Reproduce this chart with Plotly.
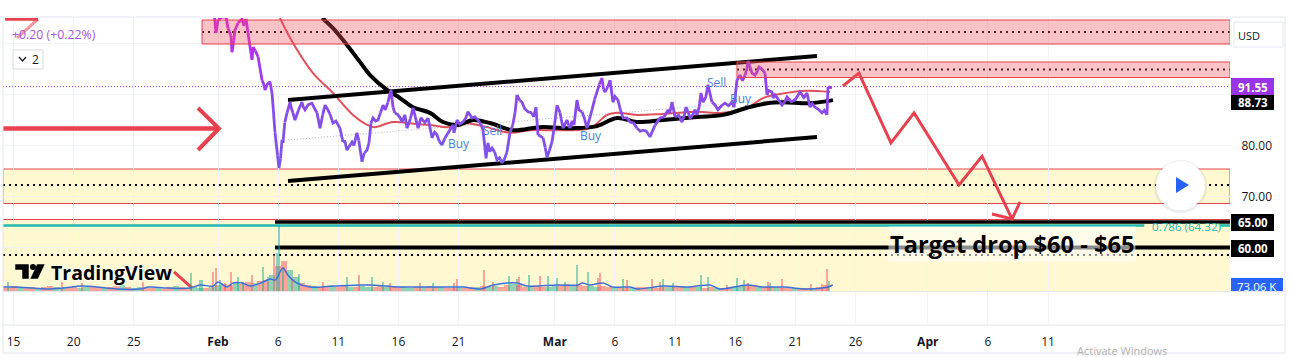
import plotly.graph_objects as go

# ---- data: x in days after 1 Feb, y in USD ----
price_days = [-0.3,-0.17,0,.33,.67,.83,1.08,1.16,1.41,1.66,2.0,2.33,2.49,2.83,2.91,3.33,3.66,3.91,4.32,4.49,4.74,5.07,5.32,5.40,5.74,5.99,6.23,6.40,6.98,7.23,7.81,8.23,8.48,8.9,9.14,9.56,10.14,10.39,10.72,11.14,11.55,11.97,12.39,12.72,12.88,13.3,13.72,14.13,14.38,14.55,14.96,15.30,15.54,15.71,16.21,16.63,16.87,17.46,17.79,18.2,18.62,19.04,19.53,19.62,19.87,20.37,20.78,21.11,21.61,22.03,22.28,22.44,22.78,23.19,23.61,24.02,24.27,24.69,24.85,25.27,25.77,26.1,26.43,26.6,27.02,27.35,27.76,28.18,28.43,28.68,29.01,29.26,29.59,29.84,30.26,30.67,31.09,31.5,31.92,32.17,32.59,32.83,33.25,33.67,34.25,34.83,35.33,35.91,36.33,36.74,37.41,37.74,37.99,38.57,38.9,39.24,39.65,39.82,40.15,40.32,40.73,41.06,41.56,42.14,42.73,42.89,43.14,43.39,43.81,44.06,44.39,44.64,44.97,45.47,45.64,46.05,46.3,46.88,47.3,47.96,48.38,48.96,49.21,49.63,50.21,50.62,50.71,51.04]
price_vals = [105.5,102.1,104.6,105.2,105.2,103,101.5,98.3,102.6,104,104.8,104.8,102.1,96.8,99.3,97.4,92.8,90.9,92.5,90.3,82.5,75.6,81.1,80.5,86.4,88.5,86.4,85,88.5,87,88.3,86.4,83.4,87.9,87,84.4,83.4,80.7,79.1,80.7,82.5,76.8,79.1,84.4,85.4,85,87.9,88.5,90.9,87.5,86,84.6,86,83.4,87.4,83.4,85.4,85.4,81.5,82.1,80.1,82.1,84,82.5,85,84.6,86.6,85.4,85,83,77.5,80.5,79.5,77.2,76.6,78.7,82.5,86.4,89.9,88.5,86.6,86.4,87.5,82.1,81.5,77.7,80.7,87.9,86.4,83.4,85,83.4,84,88.9,86.6,83.4,87,90.3,93.2,90.5,92.8,88.5,88.9,85.4,84.6,83.4,83,81.7,84,85.4,87,88.5,85.6,84.6,87.5,85.4,87,86,90.3,88.5,91.9,88.5,87,88.3,88.5,87.5,92.8,93.8,93.8,96.6,94.2,93.8,95.4,94.2,89.9,90.5,89.9,87.9,89.5,88.9,90.5,90.3,87.5,87.5,86.4,86,91.5,91.3]
detail_days = [1.3,2.15,3.1,3.5,3.8,4.1,4.6,4.95,5.2,5.55,6.1,6.7,7.1,7.5,8.0,8.7,9.3,9.8,10.25,10.55,11.3,11.7,12.15,12.55,13.1,13.5,13.9,14.7,15.15,16,16.4,17.2,18,18.4,18.85,19.25,20.1,20.6,21.35,21.85,22.6,23,23.4,23.8,24.5,25.1,25.5,26.25,27.2,27.55,27.95,28.55,29.15,29.45,30,30.45,30.85,31.3,31.7,32.05,32.4,33,33.45,34,34.55,35.1,35.6,36.1,36.55,37.1,37.55,38.3,38.75,39.05,39.45,40.0,40.55,41.3,41.85,42.45,43.6,43.95,44.25,44.8,45.25,45.75,46.15,46.6,47.1,47.65,48.2,48.7,49.4,49.9,50.4]
detail_vals = [100.5,103.5,98.6,94.8,92,92,87,78,77.5,84.5,87.3,87,87.5,88,87.4,86,86.2,84.8,82.3,80.8,80,81,78.5,80.5,84.8,86.4,87,86.4,85.4,85.3,85.6,84.5,82.6,80.8,81.4,83,84.2,85.4,85.6,84.2,78.8,78.7,77.6,77.3,84,88.8,87.2,85.6,79.6,79,83.6,85,84,84.8,87,85.4,85,89,92,91,91.5,89.6,87,85.4,84.4,82.8,82.8,82.6,84.8,85.6,86.4,85.9,85.8,86.8,85.9,87.6,89.5,88,87.8,87.8,92.7,94.8,95,94.4,94.9,90.8,89.3,89,88.5,88.6,89.8,89.4,88.2,87.1,86.9]
merged = sorted(zip(price_days+detail_days, price_vals+detail_vals))
price_days = [m[0] for m in merged]
price_vals = [m[1] for m in merged]

red_ma_days = [5.15,6.23,7.9,9.56,11.22,12.64,13.05,14.55,16.54,17.62,19.29,20.37,22.03,24.27,25.94,28.68,30.92,32.34,33.17,34.83,36.99,39.82,41.98,43.97,45.3,46.72,48.63,50.87]
red_ma_vals = [105,100.1,94.2,90.3,86,83.8,83.6,84.6,84.2,84,83.6,84.4,83.8,82.5,83,83,83.4,86,86.4,86,86.2,86.6,86.4,87.4,89.3,90.1,90.7,90.5]
black_ma_days = [8.65,9.56,10.72,11.8,12.64,14.05,15.13,16.21,17.62,18.7,19.87,21.2,22.61,24.52,26.77,29.51,31.5,33.17,34.83,36.99,39.82,41.98,43.97,45.64,46.97,49.21,51.12]
black_ma_vals = [105,103,99.7,96.4,93.8,90.9,89.3,87.5,86.4,84.6,84,85,84.4,83,83.6,83.4,83.8,85.4,84.6,85,85.6,86,87.4,88.3,88.5,88.3,88.9]

channel_days = [5.82,49.79]
channel_upper = [88.9,97.55]
channel_lower = [73.04,81.67]
trend_days = [5.82,49.46]
trend_vals = [81.08,89.51]

forecast_days = [51.95,53.28,55.94,57.86,61.6,63.51,66.0]
forecast_vals = [91.67,94.2,80.5,86.4,72.25,77.9,65.6]
forecast_head_days = [64.34,66.0,66.67]
forecast_head_vals = [66.57,65.6,68.93]
big_arrow_days = [-17.87,0.08]
big_arrow_vals = [83.33,83.33]
big_head_days = [-1.66,0.08,-1.66]
big_head_vals = [87.35,83.33,79.12]
corner_days = [-17.7,-14.96]
corner_vals = [104.8,104.8]
corner_diag_days = [-14.96,-16.7]
corner_diag_vals = [104.8,101.08]
small_arrow_days = [-3.66,-2.16]
small_arrow_vals = [55.2,52.06]

level_top = 102.25
level_mid = 94.9
level_support = 72.25
level_low = 58.53
level_65 = 65.0
level_60 = 60.0
fib_level = 64.32
last_price = 91.55

vol_base = [64,48,80,64,48,64,48,64,80,64,48,48,64,48,64,80,64,48,64,80,96,64,48,64,48,48,48,32,64,80,64,48,64,48,48,64,
            96,112,96,128,112,144,128,160,176,256,400,480,336,224,
            128,96,80,64,64,80,64,80,64,64,80,64,64,80,
            64,80,64,64,48,64,64,80,64,64,48,48,48,48,
            64,64,80,64,80,64,96,112,96,64,80,80,64,64,
            80,96,112,96,96,80,80,64,80,64,48,48,48,48,
            64,64,64,48,64,64,64,80,64,64,64,48,64,48,
            48,64,64,80,96,80,64,64,64,64,48,64,48,48,48,48,64,96]
vol_base_dir = "udduddudduudduuddudduduudduddudduuduuddudduddudduudduddudduduuddudduududduddudduduudduddudduuddudduuddudduddudduddududdudduudduddudduddudd"
spike_days = [-17.46,-12.97,-11.31,-6.23,-2.24,-1.5,-1.33,-.42,-.17,.17,.58,1.08,1.66,2.08,2.83,3.74,4.16,4.66,4.90,5.07,5.40,6.15,6.73,8.73,10.72,11.72,12.80,13.72,14.30,16.79,17.87,19.62,19.87,22.11,22.86,24.19,24.85,25.02,25.85,26.77,27.43,28.18,28.84,29.84,30.76,31.59,31.75,33.67,34.0,36.08,36.74,36.99,37.82,40.15,40.73,42.31,43.14,43.72,44.06,45.72,45.89,46.88,49.29,50.21,50.62,50.79]
spike_vals = [144,144,128,144,288,176,176,304,368,176,128,304,224,144,256,384,224,576,608,1056,384,208,272,144,224,256,224,144,128,128,128,128,192,336,144,240,192,224,256,240,240,208,144,416,304,208,288,192,176,192,144,192,128,256,224,96,208,176,128,144,128,192,112,112,352,160]
spike_dir = "uddduuuddudduuduuduuudududuuddudddduududuuuuudduddduuuuduudduddddudd"[:66]
vol_ma_days = [-17.87,-17,-15.4,-14,-12.9,-11.3,-10.1,-8.4,-6.5,-5.7,-4.2,-2.3,-1.5,-.4,0,.75,1.25,2,2.66,3.75,4.33,4.75,5.4,5.8,6.55,7.65,9.56,12.4,15.1,17.6,19.3,20.4,21.8,22.9,24.85,25.7,28.2,29.9,30.3,30.9,32,32.8,34.25,34.9,37,39.2,40.9,41.7,43.97,45.3,47,49,50.7,51.1]
vol_ma_vals = [64,64,48,32,48,80,64,32,32,64,48,48,96,80,144,64,128,128,80,144,192,176,368,256,128,64,80,96,64,64,64,64,32,96,128,80,96,96,128,96,128,64,64,32,80,64,96,32,96,64,64,32,64,96]

x_tick_days = [-17,-12,-7,0,5,10,15,20,28,33,38,43,48,53,59,64,69]
x_tick_text = ["15","20","25","<b>Feb</b>","6","11","16","21","<b>Mar</b>","6","11","16","21","26","<b>Apr</b>","6","11"]
y_tick_vals = [60,70,80,90,100]
y_tick_text = ["","70.00","80.00","",""]

# ---- colours / geometry ----
RED = "#e8404e"
YELLOW = "#fff8d0"
PINK = "rgba(247,82,95,0.35)"
GREEN_VOL = "rgba(34,171,148,0.5)"
RED_VOL = "rgba(247,82,95,0.5)"
W, H = 1290, 358
L, R, T, B = 3, 1230, 18, 325
X0, X1 = (L-218)/12.03, (R-218)/12.03
Y_BOTTOM = 80+(145.5-B)/5.1
Y_TOP = 80+(145.5-T)/5.1
PANE_BOTTOM = 80+(145.5-291.5)/5.1
DOTS = "2px,4px"

fx = lambda p: (p-L)/(R-L)
fy = lambda p: (B-p)/(B-T)

def price_colour(v):
    stops = [(76,(122,88,232)),(90,(140,72,232)),(106,(208,32,240))]
    for (a,ca),(b,cb) in zip(stops,stops[1:]):
        if v<=b:
            t=max(0,(v-a)/(b-a))
            return "rgb(%d,%d,%d)"%tuple(round(p+(q-p)*t) for p,q in zip(ca,cb))
    return "rgb(208,32,240)"

fig = go.Figure()

# volume
fig.add_trace(go.Bar(x=[-18+0.5*i for i in range(len(vol_base))], y=vol_base, width=0.5, yaxis="y2",
                     marker=dict(color=[GREEN_VOL if d=="u" else RED_VOL for d in vol_base_dir[:len(vol_base)]], line_width=0),
                     showlegend=False))
fig.add_trace(go.Bar(x=spike_days, y=spike_vals, width=0.1, yaxis="y2",
                     marker=dict(color=[GREEN_VOL if d=="u" else RED_VOL for d in spike_dir], line_width=0),
                     showlegend=False))
fig.add_trace(go.Scatter(x=vol_ma_days, y=vol_ma_vals, yaxis="y2", mode="lines", line=dict(color="#3f6fd8", width=1.5, shape="spline"), showlegend=False))

def line(x, y, color, width, dash=None, shape="linear", opacity=1):
    fig.add_trace(go.Scatter(x=x, y=y, mode="lines", opacity=opacity, showlegend=False,
                             line=dict(color=color, width=width, dash=dash, shape=shape)))

# horizontal levels
line([X0,X1],[last_price,last_price],"#9b33e6",1,"1px,2px")
line([-1.33,X1],[level_top,level_top],"#000",2,DOTS)
line([43.14,X1],[level_mid,level_mid],"#000",2,DOTS)
line([X0,X1],[level_support,level_support],"#000",2,DOTS)
line([X0,X1],[level_low,level_low],"#000",2,DOTS)
line([X0,77.0],[fib_level,fib_level],"#22b8b0",2.5)
line([83.3,X1],[fib_level,fib_level],"#22b8b0",2.5)
line(trend_days,trend_vals,"#b4b4b4",1,"1px,2px")

# moving averages
line(red_ma_days,red_ma_vals,"#e0505a",2,shape="spline")
line(black_ma_days,black_ma_vals,"#000",4,shape="spline")

# channel and levels
line(channel_days,channel_upper,"#000",4)
line(channel_days,channel_lower,"#000",4)
line([4.74,X1],[level_65,level_65],"#000",3.5)
line([4.74,X1],[level_60,level_60],"#000",4)

# price, coloured by level
seg_x,seg_y=[price_days[0]],[price_vals[0]]
cur=None
for i in range(1,len(price_days)):
    mid=round((price_vals[i]+price_vals[i-1])/2/2.5)*2.5
    c=price_colour(mid)
    if cur is None: cur=c
    if c!=cur:
        line(seg_x,seg_y,cur,2.8)
        seg_x,seg_y=[price_days[i-1]],[price_vals[i-1]]
        cur=c
    seg_x.append(price_days[i]); seg_y.append(price_vals[i])
line(seg_x,seg_y,cur,2.8)

# drawn arrows
line(forecast_days,forecast_vals,RED,3)
line(forecast_head_days,forecast_head_vals,RED,3)
line(big_arrow_days,big_arrow_vals,RED,4.5)
line(big_head_days,big_head_vals,RED,4)
line(corner_days,corner_vals,RED,3.5)
line(corner_diag_days,corner_diag_vals,RED,3,opacity=0.55)
line(small_arrow_days,small_arrow_vals,RED,3)

def rect(x0,x1,y0,y1,fill,border=None,layer="above",ref="data",w=1):
    s=dict(type="rect",x0=x0,x1=x1,y0=y0,y1=y1,fillcolor=fill,layer=layer,line=dict(color=border or "rgba(0,0,0,0)",width=w))
    s.update(xref="x",yref="y") if ref=="data" else s.update(xref="paper",yref="paper")
    return s

shapes=[
    rect(X0,X1,68.63,75.39,YELLOW,RED,"below"),
    rect(X0,X1,PANE_BOTTOM,65.49,YELLOW,None,"below"),
    dict(type="line",xref="x",yref="y",x0=X0,x1=X1,y0=65.49,y1=65.49,line=dict(color=RED,width=1),layer="below"),
    rect(-1.33,X1,99.9,104.61,PINK,RED),
    rect(43.14,X1,93.33,96.37,PINK,RED),
]
# frame
for (a,b,c,d) in [(3,1285,17,17),(3,1285,325,325),(3,1285,291.5,291.5),(1285,1285,17,353),(3,1285,353,353),(3,3,17,353)]:
    shapes.append(dict(type="line",xref="paper",yref="paper",x0=fx(a),x1=fx(b),y0=fy(c),y1=fy(d),line=dict(color="#e4e6ec",width=1)))
# price tags
for y0,y1,col,x1 in [(78,95,"#9b33e6",1274),(95,110,"#000",1274),(214,231,"#000",1274),(240,257,"#000",1274),(278,291,"#2962ff",1283)]:
    shapes.append(rect(fx(1231),fx(x1),fy(y1),fy(y0),col,None,ref="paper"))
# USD box, interval box
shapes.append(rect(fx(1234),fx(1283),fy(47),fy(22),"#fff","#e6e8ee",ref="paper"))
shapes.append(rect(fx(13),fx(43),fy(69),fy(50),"#fff","#d8dbe2",ref="paper"))
shapes.append(dict(type="path",xref="paper",yref="paper",
                   path=f"M {fx(19)} {fy(57)} L {fx(22.5)} {fy(61)} L {fx(26)} {fy(57)}",line=dict(color="#131722",width=1.2)))
# play button
shapes.append(dict(type="circle",xref="paper",yref="paper",x0=fx(1154),x1=fx(1207),y0=fy(213),y1=fy(160),fillcolor="rgba(120,125,140,0.14)",line_width=0))
shapes.append(dict(type="circle",xref="paper",yref="paper",x0=fx(1156),x1=fx(1205),y0=fy(210),y1=fy(161),fillcolor="#fff",line_width=0))
shapes.append(dict(type="path",xref="paper",yref="paper",fillcolor="#2962ff",line_width=0,
                   path=f"M {fx(1176)} {fy(177)} L {fx(1189)} {fy(185)} L {fx(1176)} {fy(193)} Z"))
# TradingView logo
for p in [
    f"M {fx(15)} {fy(264)} L {fx(29)} {fy(264)} L {fx(29)} {fy(279)} L {fx(22)} {fy(279)} L {fx(22)} {fy(270)} L {fx(15)} {fy(270)} Z",
    f"M {fx(37)} {fy(264)} L {fx(45)} {fy(264)} L {fx(38)} {fy(279)} L {fx(30)} {fy(279)} Z",
]:
    shapes.append(dict(type="path",xref="paper",yref="paper",fillcolor="#000",line=dict(color="#fff",width=0.5),path=p))
shapes.append(dict(type="circle",xref="paper",yref="paper",x0=fx(30),x1=fx(36),y0=fy(270),y1=fy(264),fillcolor="#000",line_width=0))

def note(px,py,text,size=12,color="#131722",anchor="center",family="Open Sans",**kw):
    return dict(xref="paper",yref="paper",x=fx(px),y=fy(py),text=text,showarrow=False,xanchor=anchor,yanchor="middle",
                font=dict(size=size,color=color,family=family,**kw.pop("font",{})),**kw)

BLUE_NOTE="#4a7fd8"
annos=[
    note(459,143,"Buy",12,BLUE_NOTE), note(492,130,"Sell",12,BLUE_NOTE), note(591,135,"Buy",12,BLUE_NOTE),
    note(716,82,"Sell",12,BLUE_NOTE), note(741,98,"Buy",12,BLUE_NOTE),
    note(10,34,"+0.20 (+0.22%)",12.3,"#a855e0","left"),
    note(35,60,"2",12),
    note(1236,35,"USD",11,"#131722","left"),
    note(1252.5,87,"<b>91.55</b>",11.5,"#fff"),
    note(1252.5,102,"<b>88.73</b>",11.5,"#fff"),
    note(1252.5,222.5,"<b>65.00</b>",11.5,"#fff"),
    note(1252.5,248.5,"<b>60.00</b>",11.5,"#fff"),
    note(1257,286,"73.06 K",11.5,"#fff"),
    note(1186,226.5,"0.786 (64.32)",11.6,"#22b8b0"),
    note(49,272.5,"<b>TradingView</b>",19.5,"#000","left",font=dict(shadow="0 0 3px #fff, 0 0 3px #fff")),
    note(1012,244,"<b>Target drop $60 - $65</b>",23.6,"#000","center",family="Open Sans",bgcolor="rgba(255,255,255,0.55)",borderpad=1),
    note(1122,350,"Activate Windows",11,"#b0b0b0"),
]

fig.update_layout(
    width=W,height=H,autosize=False,
    margin=dict(l=L,r=W-R,t=T,b=H-B,pad=0),
    paper_bgcolor="#fff",plot_bgcolor="#fff",
    barmode="overlay",bargap=0,showlegend=False,
    font=dict(family="Open Sans",size=12,color="#131722"),
    shapes=shapes,annotations=annos,
    xaxis=dict(range=[X0,X1],tickvals=x_tick_days,ticktext=x_tick_text,showgrid=True,gridcolor="#f0f3fa",gridwidth=1,
               zeroline=False,showline=False,ticks="outside",ticklen=6,tickcolor="rgba(0,0,0,0)",tickfont=dict(size=12)),
    yaxis=dict(range=[Y_BOTTOM,Y_TOP],side="right",tickvals=y_tick_vals,ticktext=y_tick_text,showgrid=True,gridcolor="#f0f3fa",
               zeroline=False,showline=False,ticks="outside",ticklen=8,tickcolor="rgba(0,0,0,0)",tickfont=dict(size=12)),
    yaxis2=dict(overlaying="y",range=[-544,4368],visible=False),
)
fig.write_html("out.html",config=dict(displayModeBar=False),
               post_script="document.body.style.margin='0';document.documentElement.style.overflow='hidden';")
